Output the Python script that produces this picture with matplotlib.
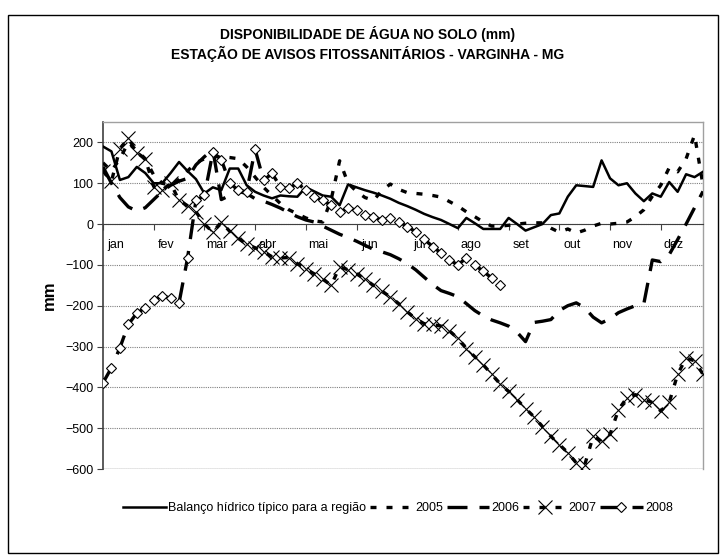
import numpy as np
import matplotlib
matplotlib.use('Agg')
import matplotlib.pyplot as plt
from matplotlib.patches import Rectangle

plt.rcParams['font.family'] = ['Liberation Sans', 'DejaVu Sans']

# pentadas (72 por ano)
meses = ['jan', 'fev', 'mar', 'abr', 'mai', 'jun', 'jul', 'ago', 'set', 'out', 'nov', 'dez']

balanco = [190, 178, 108, 115, 140, 125, 100, 100, 125, 152, 130, 110, 75, 90, 83, 136, 136, 95,
           79, 70, 63, 70, 68, 67, 90, 80, 70, 67, 46, 97, 90, 83, 77, 70, 62, 52,
           44, 35, 25, 17, 10, 0, -10, 15, 2, -12, -12, -12, 15, 0, -16, -8, 0, 22,
           26, 67, 95, 93, 91, 156, 112, 95, 100, 75, 56, 75, 67, 103, 79, 122, 115, 128]

a2005 = [150, 130, 160, 200, 180, 160, 120, 100, 95, 110, 130, 150, 160, 165, 165, 163, 160, 140,
         115, 90, 70, 50, 35, 25, 15, 8, 5, 60, 155, 100, 80, 65, 58, 82, 98, 85,
         77, 75, 73, 70, 66, 55, 44, 30, 18, 5, -5, -5, -3, 0, 2, 3, 3, -10,
         -20, -12, -22, -15, -5, 2, 0, 2, 5, 18, 35, 68, 95, 138, 128, 160, 218, 95]

a2006 = [140, 100, 65, 42, 32, 40, 60, 80, 95, 105, 112, 145, 165, 182, 60, 70, 80, 75,
         62, 56, 48, 39, 28, 18, 10, 5, -5, -15, -25, -33, -42, -52, -62, -68, -75, -85,
         -97, -112, -130, -148, -163, -170, -178, -195, -212, -225, -235, -242, -250, -265, -288, -241,
         -238, -234, -212, -200, -193, -205, -228, -242, -232, -217, -208, -200, -195, -88, -92, -75,
         -38, 0, 40, 80]

a2007 = [130, 105, 185, 210, 175, 160, 92, 83, 100, 58, 45, 30, 0, -20, 5, -18, -35, -50,
         -58, -68, -80, -83, -82, -97, -110, -122, -135, -150, -105, -112, -122, -135, -150, -165, -178, -195,
         -215, -232, -244, -246, -250, -262, -280, -305, -325, -345, -368, -392, -410, -430, -452, -472,
         -496, -520, -540, -560, -585, -590, -520, -532, -515, -455, -425, -418, -430, -437, -458, -437,
         -368, -328, -335, -368]

a2008 = [-389, -352, -303, -246, -218, -206, -185, -177, -181, -193, -84, 58, 70, 176, 158, 100, 83, 79,
         183, 107, 124, 91, 88, 100, 83, 67, 58, 46, 30, 39, 34, 22, 18, 10, 14, 6,
         -6, -19, -37, -55, -71, -88, -100, -83, -100, -116, -132, -149]

rotulos = ['Balanço hídrico típico para a região', '2005', '2006', '2007', '2008']

fig = plt.figure(figsize=(7.2, 5.6), dpi=100)
ax = fig.add_axes([103 / 720, 1 - 469 / 560, 600 / 720, 347 / 560])

x = np.arange(72)
ax.plot(x, balanco, color='black', lw=1.8, label=rotulos[0], zorder=3)
ax.plot(x, a2005, color='black', lw=2.4, ls=(0, (1.8, 3.0)), label=rotulos[1], zorder=3)
ax.plot(x, a2006, color='black', lw=2.4, ls=(0, (6.0, 3.6)), label=rotulos[2], zorder=3)
ax.plot(x, a2007, color='black', lw=2.4, ls=(0, (1.8, 3.0)), marker='x', ms=10, mew=0.8,
        mec='black', label=rotulos[3], zorder=4)
ax.plot(x[:len(a2008)], a2008, color='black', lw=2.4, ls=(0, (6.0, 3.6)), marker='D', ms=5,
        mfc='white', mec='black', mew=0.8, label=rotulos[4], zorder=4)

ax.set_xlim(0, 71)
ax.set_ylim(-600, 250)
ax.set_yticks(range(-600, 201, 100))
ax.yaxis.grid(True, linestyle=(0, (1, 1)), color='#808080', lw=0.8)
ax.axhline(-600, color='#909090', lw=1, zorder=2)

# marcas nos inicios dos meses, nomes logo a direita
ax.set_xticks(np.arange(0, 72, 6))
ax.set_xticklabels([])
ax.set_xticks(np.arange(0, 72, 6) + 1.5, minor=True)
ax.set_xticklabels(meses, minor=True)

ax.spines['bottom'].set_position(('data', 0))
ax.spines['bottom'].set_color('#404040')
ax.spines['left'].set_color('#404040')
ax.spines['left'].set_linewidth(1.2)
for s in ['top', 'right']:
    ax.spines[s].set_color('#a0a0a0')
    ax.spines[s].set_linewidth(1)
ax.tick_params(axis='x', which='major', direction='out', length=4, color='#404040')
ax.tick_params(axis='x', which='minor', length=0, pad=11, labelsize=9)
ax.tick_params(axis='y', direction='out', length=4, pad=3, labelsize=9, color='#404040')

ax.set_ylabel('mm', fontsize=12, fontweight='bold', labelpad=6)

fig.text(0.51, 1 - 34 / 560, 'DISPONIBILIDADE DE ÁGUA NO SOLO (mm)', ha='center', va='center',
         fontsize=10, fontweight='bold')
fig.text(0.51, 1 - 54 / 560, 'ESTAÇÃO DE AVISOS FITOSSANITÁRIOS - VARGINHA - MG', ha='center',
         va='center', fontsize=10, fontweight='bold')

fig.legend(loc='center', bbox_to_anchor=(398 / 720, 1 - 508 / 560), ncol=5, frameon=False,
           fontsize=9, handlelength=3.4, handletextpad=0.2, columnspacing=0.3)

fig.add_artist(Rectangle((8 / 720, 1 - 553 / 560), 710 / 720, 538 / 560, transform=fig.transFigure,
                         fill=False, ec='black', lw=1))

fig.savefig('out.png', dpi=100)
